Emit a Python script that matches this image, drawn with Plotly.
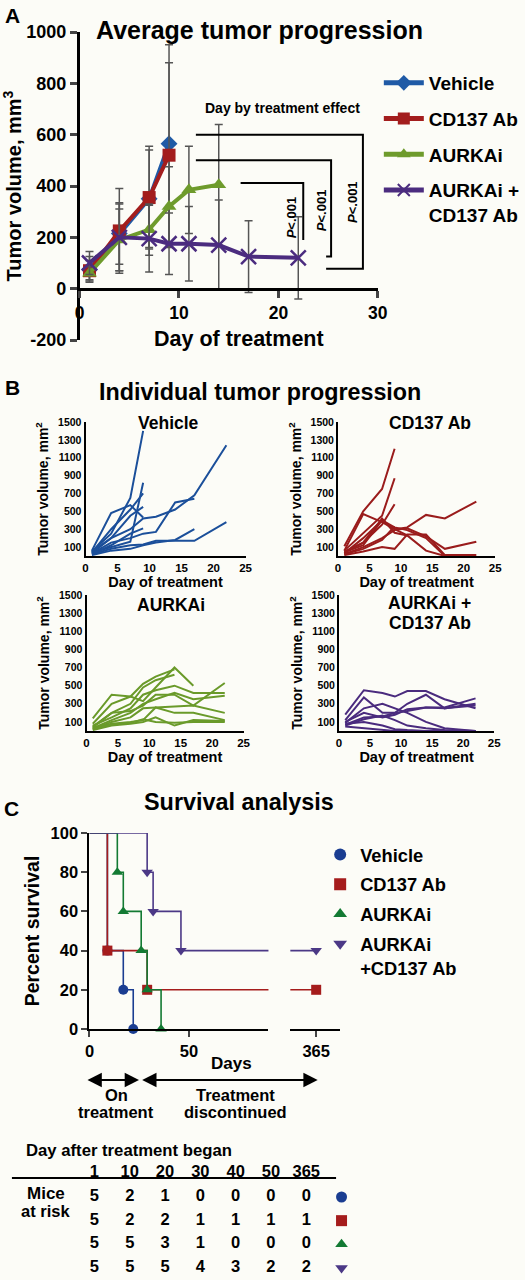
import plotly.graph_objects as go

W, H = 525, 1280
FONT = "Liberation Sans, Arial, sans-serif"
BG = "#fcfcf7"


def px(x):
    return x / W


def py(y):
    return 1 - y / H


# ---------------- Panel A data: average tumor progression ----------------
days_a = [1, 4, 7, 9, 11, 14, 17, 22]
group_names = ["Vehicle", "CD137 Ab", "AURKAi", "AURKAi +<br>CD137 Ab"]
veh_mean = [75, 215, 350, 565]
veh_err = [50, 120, 190, 385]
cd_mean = [70, 225, 355, 520]
cd_err = [40, 165, 200, 360]
aur_mean = [60, 190, 230, 320, 385, 405]
aur_err = [25, 120, 100, 155, 170, 235]
combo_mean = [100, 200, 195, 175, 175, 170, 125, 120]
combo_err = [45, 130, 130, 120, 145, 175, 140, 160]
a_ticks_x = [0, 10, 20, 30]
a_ticks_y = [-200, 0, 200, 400, 600, 800, 1000]
a_ticks_y_text = ["-200", "0", "200", "400", "600", "800", "1000"]

# ---------------- Panel B data: individual tumors ----------------
days_b = [1, 4, 7, 9, 11, 14, 17, 22]
vehicle_mice = [
    [50, 250, 650, 1400],
    [60, 480, 570, 430],
    [40, 300, 520, 700],
    [30, 200, 450, 550],
    [40, 100, 160, 820],
    [50, 200, 300, 420, 440, 520, 680, 1240],
    [30, 150, 200, 250, 270, 600, 640],
    [20, 80, 120, 130, 170, 170, 170, 380],
    [10, 60, 80, 120, 150, 180, 300],
    [20, 120, 250, 310],
]
cd137_mice = [
    [110, 500, 750, 1200],
    [60, 250, 450, 870],
    [40, 150, 350, 580],
    [60, 470, 380, 300, 230, 60, 0],
    [30, 200, 400, 300, 320, 460, 420, 610],
    [20, 100, 200, 290, 310, 220, 80, 160],
    [10, 50, 100, 80, 240, 240, 10, 10],
    [40, 120, 400, 320, 290, 200, 0],
    [20, 80, 180, 330],
    [50, 150, 420, 260, 230],
]
aurka_mice = [
    [140, 400, 380, 330, 480, 700, 500],
    [80, 300, 380, 520, 600, 680],
    [50, 200, 300, 480, 560, 620],
    [60, 150, 250, 400, 450, 500, 420, 420],
    [40, 200, 220, 280, 400, 400, 280, 530],
    [30, 120, 200, 300, 350, 420, 350, 390],
    [20, 100, 150, 250, 260, 270, 280, 200],
    [30, 80, 100, 120, 260, 200, 200, 120],
    [10, 60, 80, 100, 150, 60, 120, 110],
    [20, 70, 90, 130, 100, 90, 100, 100],
]
combo_mice = [
    [180, 450, 420, 380, 440, 440, 350, 250],
    [120, 370, 200, 200, 300, 400, 250, 300],
    [90, 250, 300, 250, 200, 100, 30, 0],
    [100, 200, 150, 180, 240, 260, 260, 360],
    [70, 150, 160, 200, 220, 260, 250, 280],
    [60, 130, 170, 120, 60, 30, 10, 0],
    [80, 100, 60, 20, 10, 0, 0, 0],
    [50, 30, 10, 0, 0, 0, 0, 0],
]
b_ticks_x = [0, 5, 10, 15, 20, 25]
b_ticks_y = [100, 300, 500, 700, 900, 1100, 1300, 1500]

# ---------------- Panel C data: survival ----------------
surv_names = ["Vehicle", "CD137 Ab", "AURKAi", "AURKAi<br>+CD137 Ab"]
veh_t = [0, 9, 17, 22]
veh_s = [100, 40, 20, 0]
cd_t = [0, 9, 29, 365]
cd_s = [100, 40, 20, 20]
aur_t = [0, 14, 17, 26, 29, 36]
aur_s = [100, 80, 60, 40, 20, 0]
combo_t = [0, 29, 32, 46, 365]
combo_s = [100, 80, 60, 40, 40]
c_ticks_y = [0, 20, 40, 60, 80, 100]

# ---------------- Table data ----------------
risk_days = ["1", "10", "20", "30", "40", "50", "365"]
risk_vehicle = [5, 2, 1, 0, 0, 0, 0]
risk_cd137 = [5, 2, 2, 1, 1, 1, 1]
risk_aurka = [5, 5, 3, 1, 0, 0, 0]
risk_combo = [5, 5, 5, 4, 3, 2, 2]

COL_A = ["#1f5aa6", "#a31d1d", "#6e9b2c", "#4b2c7f"]
COL_B = ["#1b4f9a", "#9a1c1c", "#6a9a2a", "#4a2b7e"]
COL_C = ["#1a3d91", "#a51c1c", "#137a33", "#4b3886"]


def bf(size, color="black", **kw):
    return dict(family=FONT, size=size, color=color, weight="bold", **kw)


fig = go.Figure()

# ---- Panel A traces ----
a_series = [
    (veh_mean, veh_err, "diamond"),
    (cd_mean, cd_err, "square"),
    (aur_mean, aur_err, "triangle-up"),
    (combo_mean, combo_err, "x-thin"),
]
for i, (m, e, sym) in enumerate(a_series):
    n = len(m)
    c = COL_A[i]
    fig.add_trace(go.Scatter(
        x=days_a[:n], y=m, name=group_names[i], mode="lines+markers",
        line=dict(color=c, width=4),
        marker=dict(symbol=sym, size=15 if sym == "x-thin" else 13, color=c,
                    line=dict(color=c, width=2.5 if sym == "x-thin" else 0)),
        error_y=dict(type="data", array=e, color="#555555", thickness=1.5, width=4),
        xaxis="x", yaxis="y", legend="legend", legendgroup=f"a{i}",
        cliponaxis=False,
    ))

# ---- Panel B traces ----
b_groups = [vehicle_mice, cd137_mice, aurka_mice, combo_mice]
for gi, mice in enumerate(b_groups):
    ax = str(gi + 2)
    for vals in mice:
        fig.add_trace(go.Scatter(
            x=days_b[:len(vals)], y=vals, mode="lines",
            line=dict(color=COL_B[gi], width=2),
            xaxis="x" + ax, yaxis="y" + ax, showlegend=False, hoverinfo="skip",
        ))

# ---- Panel C traces ----
c_series = [
    (veh_t, veh_s, "circle"),
    (cd_t, cd_s, "square"),
    (aur_t, aur_s, "triangle-up"),
    (combo_t, combo_s, "triangle-down"),
]
X6_RANGE = [0, 90]
X7_RANGE = [352, 377]
for i, (t, s, sym) in enumerate(c_series):
    c = COL_C[i]
    for xa, rng in (("x6", X6_RANGE), ("x7", X7_RANGE)):
        fig.add_trace(go.Scatter(
            x=t, y=s, mode="lines", line=dict(color=c, width=1.6, shape="hv"),
            xaxis=xa, yaxis="y6", showlegend=False, hoverinfo="skip",
        ))
        ev = [(tt, ss) for tt, ss in zip(t[1:], s[1:]) if rng[0] <= tt <= rng[1]]
        if ev:
            fig.add_trace(go.Scatter(
                x=[p[0] for p in ev], y=[p[1] for p in ev], mode="markers",
                marker=dict(symbol=sym, size=10, color=c),
                xaxis=xa, yaxis="y6", cliponaxis=False,
                name=surv_names[i], legend="legend2", legendgroup=f"c{i}",
                showlegend=False,
            ))
    # legend-only entry
    fig.add_trace(go.Scatter(
        x=[None], y=[None], mode="markers", marker=dict(symbol=sym, size=10, color=c),
        name=surv_names[i], legend="legend2", legendgroup=f"c{i}",
        xaxis="x6", yaxis="y6",
    ))

# ---- Table traces ----
tbl_x = list(range(len(risk_days)))
fig.add_trace(go.Scatter(
    x=tbl_x, y=[0] * len(tbl_x), mode="text", text=risk_days,
    textfont=bf(16.5), xaxis="x8", yaxis="y8", showlegend=False, hoverinfo="skip",
    cliponaxis=False,
))
risk_rows = [risk_vehicle, risk_cd137, risk_aurka, risk_combo]
for ri, row in enumerate(risk_rows):
    fig.add_trace(go.Scatter(
        x=tbl_x, y=[ri + 1] * len(row), mode="text", text=[str(v) for v in row],
        textfont=bf(16.5), xaxis="x8", yaxis="y8", showlegend=False, hoverinfo="skip",
        cliponaxis=False,
    ))
    fig.add_trace(go.Scatter(
        x=[len(risk_days)], y=[ri + 1], mode="markers",
        marker=dict(symbol=c_series[ri][2], size=11, color=COL_C[ri]),
        xaxis="x8", yaxis="y8", showlegend=False, hoverinfo="skip", cliponaxis=False,
    ))

# ---------------- Axes ----------------
common = dict(showgrid=False, zeroline=False, showline=True, linecolor="black",
              automargin=False)

layout = dict(
    width=W, height=H, margin=dict(l=0, r=0, t=0, b=0),
    paper_bgcolor=BG, plot_bgcolor="rgba(0,0,0,0)", template="none",
    font=dict(family=FONT, color="black"),
)

# Panel A
layout["xaxis"] = dict(common, domain=[px(80), px(380)], range=[0, 30], anchor="free",
                       position=py(289), linewidth=2.5, ticks="outside", ticklen=7,
                       tickwidth=2.5, tickvals=a_ticks_x, tickfont=bf(17.5))
layout["yaxis"] = dict(common, domain=[py(340), py(32)], range=[-200, 1000], anchor="x",
                       linewidth=2.5, ticks="outside", ticklen=7, tickwidth=2.5,
                       tickvals=a_ticks_y, ticktext=a_ticks_y_text, tickfont=bf(18),
                       title=dict(text="Tumor volume, mm<sup>3</sup>", font=bf(20), standoff=4))

# Panel B
b_dom = [
    ([86, 247], [556, 422]),
    ([340, 498], [556, 422]),
    ([87, 245], [731, 595]),
    ([341, 497], [731, 595]),
]
for gi, (xd, yd) in enumerate(b_dom):
    k = str(gi + 2)
    layout["xaxis" + k] = dict(common, domain=[px(xd[0]), px(xd[1])], range=[0, 25],
                               anchor="y" + k, linewidth=2, ticks="", tickvals=b_ticks_x,
                               tickfont=bf(11.5),
                               title=dict(text="Day of treatment", font=bf(14.5), standoff=2))
    layout["yaxis" + k] = dict(common, domain=[py(yd[0]), py(yd[1])], range=[0, 1500],
                               anchor="x" + k, linewidth=2, ticks="", tickvals=b_ticks_y,
                               tickfont=bf(10.5),
                               title=dict(text="Tumor volume, mm<sup>2</sup>", font=bf(14), standoff=6))

# Panel C
layout["xaxis6"] = dict(common, domain=[px(90), px(270)], range=X6_RANGE, anchor="y6",
                        linewidth=2.2, ticks="outside", ticklen=6, tickwidth=2,
                        tickvals=[0, 50], tickfont=bf(16.5))
layout["xaxis7"] = dict(common, domain=[px(292), px(342)], range=X7_RANGE, anchor="y6",
                        linewidth=2.2, ticks="outside", ticklen=6, tickwidth=2,
                        tickvals=[365], tickfont=bf(16.5))
layout["yaxis6"] = dict(common, domain=[py(1029), py(833)], range=[0, 100], anchor="x6",
                        linewidth=2.2, ticks="outside", ticklen=6, tickwidth=2,
                        tickvals=c_ticks_y, tickfont=bf(16.5),
                        title=dict(text="Percent survival", font=bf(19.5), standoff=6))

# Table axes (hidden)
layout["xaxis8"] = dict(domain=[px(77.25), px(361.25)], range=[-0.5, 7.5], visible=False,
                        anchor="y8", fixedrange=True)
layout["yaxis8"] = dict(domain=[py(1279.8), py(1161.5)], range=[4.5, -0.5], visible=False,
                        anchor="x8", fixedrange=True)

# Legends
layout["legend"] = dict(x=px(381), y=py(64), xanchor="left", yanchor="top",
                        font=bf(19), tracegroupgap=8, bgcolor="rgba(0,0,0,0)",
                        itemsizing="constant", valign="top", itemwidth=40)
layout["legend2"] = dict(x=px(322), y=py(836), xanchor="left", yanchor="top",
                         font=bf(18.3), tracegroupgap=3, bgcolor="rgba(0,0,0,0)",
                         itemsizing="constant", valign="top")

fig.update_layout(**layout)

# ---------------- Annotations ----------------
ann = []


def txt(x, y, s, size, **kw):
    d = dict(x=px(x), y=py(y), xref="paper", yref="paper", text=s, showarrow=False,
             font=bf(size), xanchor="center", yanchor="middle")
    d.update(kw)
    ann.append(d)


txt(13, 15, "A", 21)
txt(95, 30, "Average tumor progression", 25, xanchor="left")
txt(240, 339, "Day of treatment", 21.5)
txt(284, 108, "Day by treatment effect", 14)
txt(293, 217, "<i>P</i>&lt;.001", 13, textangle=-90)
txt(323, 210, "<i>P</i>&lt;.001", 13, textangle=-90)
txt(354, 202, "<i>P</i>&lt;.001", 13, textangle=-90)

txt(13, 387, "B", 21)
txt(98, 392, "Individual tumor progression", 23.3, xanchor="left")
txt(169, 423, "Vehicle", 17.5)
txt(432, 423, "CD137 Ab", 17.5)
txt(172, 605, "AURKAi", 17.5)
txt(432, 603, "AURKAi +", 17.5)
txt(432, 623, "CD137 Ab", 17.5)

txt(12, 808, "C", 21)
txt(240, 802, "Survival analysis", 23.4)
txt(233, 1063, "Days", 17)
txt(117, 1095, "On", 16.5)
txt(117, 1112, "treatment", 16.5)
txt(237, 1095, "Treatment", 16.5)
txt(237, 1112, "discontinued", 16.5)

txt(24, 1150, "Day after treatment began", 16.7, xanchor="left")
txt(46, 1193, "Mice", 17)
txt(46, 1211, "at risk", 16.5)

# double-headed arrows
for x0, x1 in ((88, 141), (143, 320)):
    ann.append(dict(x=px(x0), y=py(1080), xref="paper", yref="paper", ax=x1 - x0, ay=0,
                    text="", showarrow=True, arrowhead=2, startarrowhead=2,
                    arrowside="end+start", arrowsize=1.3, startarrowsize=1.3,
                    arrowwidth=2.2, arrowcolor="black", standoff=0, startstandoff=0))

fig.update_layout(annotations=ann)

# ---------------- Shapes (significance brackets, table rule) ----------------
shapes = [
    dict(type="path", xref="x", yref="y", path="M 11.7,600 H 28.5 V 78 H 24.8",
         line=dict(color="black", width=2)),
    dict(type="path", xref="x", yref="y", path="M 11.7,500 H 25.3 V 125 H 24.8",
         line=dict(color="black", width=2)),
    dict(type="path", xref="x", yref="y", path="M 16.2,412 H 22.5 V 190",
         line=dict(color="black", width=2)),
    dict(type="line", xref="paper", yref="paper", x0=px(12), x1=px(338),
         y0=py(1178), y1=py(1178), line=dict(color="black", width=2)),
]
fig.update_layout(shapes=shapes)

fig.write_html("out.html", config={"displayModeBar": False},
               post_script="document.body.style.margin='0px';")
